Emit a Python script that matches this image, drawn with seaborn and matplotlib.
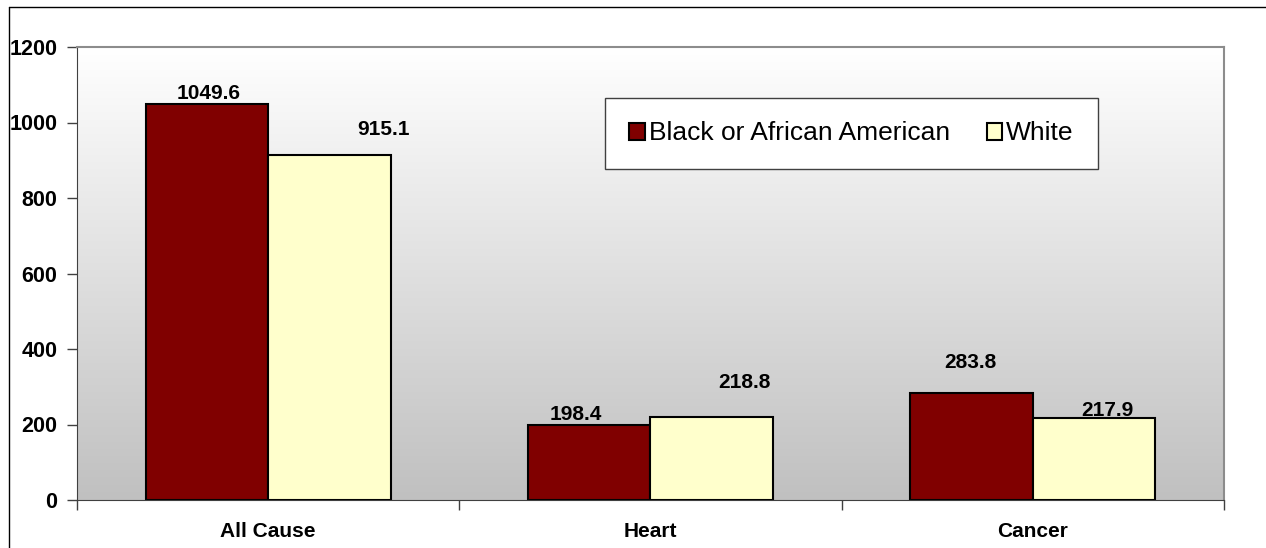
import numpy as np
import pandas as pd
import seaborn as sns
import matplotlib.pyplot as plt
from matplotlib.colors import LinearSegmentedColormap
from matplotlib.lines import Line2D
from matplotlib.patches import Patch

causes = ['All Cause', 'Heart', 'Cancer']
races = ['Black or African American', 'White']
black_rates = [1049.6, 198.4, 283.8]
white_rates = [915.1, 218.8, 217.9]
bar_colors = ['#800000', '#FFFFCC']

# label nudges in pixels (the original labels were dragged around by hand)
label_nudge = {
    0: [(2, 1), (-14, 1), (-1, 21)],
    1: [(54, 16), (33, 25), (13, -2)],
}

df = pd.DataFrame({
    'cause': causes * 2,
    'race': [races[0]] * 3 + [races[1]] * 3,
    'rate': black_rates + white_rates,
})

sns.set_style('white')
plt.rcParams['font.family'] = ['Liberation Sans', 'DejaVu Sans']
plt.rcParams['text.color'] = 'black'
plt.rcParams['xtick.color'] = 'black'
plt.rcParams['ytick.color'] = 'black'

fig = plt.figure(figsize=(12.66, 5.48), dpi=100)
ax = fig.add_axes([77 / 1266, 1 - 500 / 548, 1147 / 1266, 453 / 548])

# gradient background, white at top to grey at bottom
grad = np.linspace(0, 1, 256).reshape(-1, 1)
ax.imshow(grad, extent=[0, 1, 0, 1], transform=ax.transAxes, aspect='auto',
          cmap=LinearSegmentedColormap.from_list('bg', ['#ffffff', '#c0c0c0']),
          zorder=0)

sns.barplot(data=df, x='cause', y='rate', hue='race', palette=bar_colors,
            saturation=1, width=0.64, gap=0, edgecolor='black', linewidth=1.5,
            ax=ax, legend=False, zorder=2)

for i, cont in enumerate(ax.containers):
    for j, rect in enumerate(cont.patches):
        h = rect.get_height()
        dx, dy = label_nudge[i][j]
        ax.annotate(f'{h:.1f}', (rect.get_x() + rect.get_width() / 2, h),
                    xytext=(dx, dy), textcoords='offset pixels',
                    ha='center', va='bottom', fontsize=15, fontweight='bold',
                    color='black', zorder=1)

ax.set_xlim(-0.5, 2.5)
ax.set_ylim(0, 1200)
ax.set_yticks(range(0, 1201, 200))
ax.set_xlabel('')
ax.set_ylabel('')
ax.set_xticks([0, 1, 2])
ax.set_xticklabels(causes, fontsize=15, fontweight='bold')
ax.set_xticks([-0.5, 0.5, 1.5, 2.5], minor=True)
ax.tick_params(axis='x', which='major', length=0, pad=16)
ax.tick_params(axis='x', which='minor', length=7, width=1, color='#404040', direction='out', bottom=True)
ax.tick_params(axis='y', length=7, width=1, color='#404040', direction='out', left=True, pad=7)
for t in ax.get_yticklabels():
    t.set_fontsize(15.5)
    t.set_fontweight('bold')

for s in ['top', 'right']:
    ax.spines[s].set_color('#8c8c8c')
    ax.spines[s].set_linewidth(1.5)
ax.spines['left'].set_color('#404040')
ax.spines['bottom'].set_color('#404040')
for s in ax.spines.values():
    s.set_visible(True)

handles = [Patch(facecolor=c, edgecolor='black', linewidth=1.5) for c in bar_colors]
leg = ax.legend(handles, races, loc='upper left', bbox_to_anchor=(0.4603, 0.888),
                ncol=2, fontsize=19, frameon=True, fancybox=False,
                handlelength=0.6, handleheight=0.6, handletextpad=0.15,
                columnspacing=1.4, borderpad=0.9, borderaxespad=0)
leg.get_frame().set_edgecolor('#404040')
leg.get_frame().set_facecolor('white')
leg.get_frame().set_linewidth(1)
leg.get_frame().set_alpha(1)

# outer chart border
fig.add_artist(Line2D([9 / 1266, 9 / 1266], [0, 1 - 7 / 548], color='black', lw=1, transform=fig.transFigure))
fig.add_artist(Line2D([9 / 1266, 1], [1 - 7 / 548, 1 - 7 / 548], color='black', lw=1, transform=fig.transFigure))

fig.savefig('out.png', dpi=100)
